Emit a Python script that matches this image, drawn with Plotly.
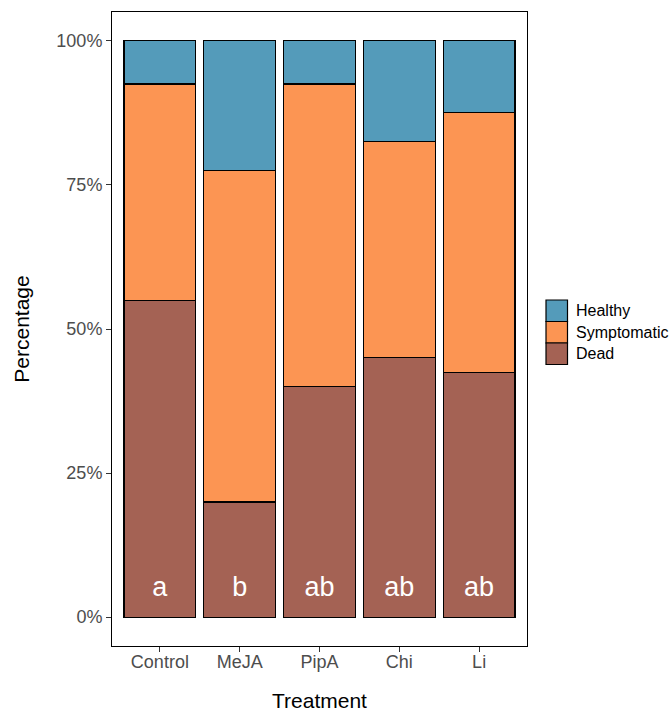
import plotly.graph_objects as go

treatments = ["Control", "MeJA", "PipA", "Chi", "Li"]
dead = [55.0, 20.0, 40.0, 45.0, 42.5]
symptomatic = [37.5, 57.5, 52.5, 37.5, 45.0]
healthy = [7.5, 22.5, 7.5, 17.5, 12.5]
letters = ["a", "b", "ab", "ab", "ab"]
y_ticks = [0, 25, 50, 75, 100]
y_tick_labels = ["0%", "25%", "50%", "75%", "100%"]

colors = {"Healthy": "#549BBA", "Symptomatic": "#FC9553", "Dead": "#A46254"}
FONT = "Liberation Sans, Arial"

W, H = 670, 712
ML, MR, MT, MB = 112, 143, 12, 66
PW, PH = W - ML - MR, H - MT - MB

fig = go.Figure()
for name, vals in [("Dead", dead), ("Symptomatic", symptomatic), ("Healthy", healthy)]:
    fig.add_trace(go.Bar(
        x=treatments, y=vals, name=name, width=0.9, showlegend=False,
        marker=dict(color=colors[name], line=dict(color="black", width=1.2)),
    ))

fig.add_trace(go.Scatter(
    x=treatments, y=[4.8] * len(treatments), text=letters, mode="text",
    textfont=dict(color="white", size=27, family=FONT),
    showlegend=False, hoverinfo="skip",
))

# Legend keys drawn as bordered squares to the right of the panel
def px_x(p):
    return (p - ML) / PW

def px_y(p):
    return 1 - (p - MT) / PH

key_left, key_size, key_top = 546, 21.5, 300
shapes, annotations = [], []
for i, name in enumerate(["Healthy", "Symptomatic", "Dead"]):
    top = key_top + i * key_size
    shapes.append(dict(
        type="rect", xref="paper", yref="paper",
        x0=px_x(key_left), x1=px_x(key_left + key_size),
        y0=px_y(top + key_size), y1=px_y(top),
        fillcolor=colors[name], line=dict(color="black", width=1.2), layer="above",
    ))
    annotations.append(dict(
        xref="paper", yref="paper", x=px_x(key_left + key_size + 6),
        y=px_y(top + key_size / 2), text=name, showarrow=False,
        xanchor="left", yanchor="middle", font=dict(size=16, color="black", family=FONT),
    ))

fig.update_layout(
    barmode="stack",
    width=W, height=H,
    margin=dict(l=ML, r=MR, t=MT, b=MB, autoexpand=False),
    plot_bgcolor="white", paper_bgcolor="white",
    font=dict(family=FONT, color="black"),
    showlegend=False,
    shapes=shapes, annotations=annotations,
)
fig.update_xaxes(
    range=[-0.6, 4.6], showline=True, mirror=True, linecolor="black", linewidth=1,
    ticks="outside", ticklen=5, tickcolor="#333333",
    tickfont=dict(size=18, color="#4D4D4D"), ticklabelstandoff=-6,
    title=dict(text="Treatment", font=dict(size=21, color="black"), standoff=22),
    showgrid=False, zeroline=False, automargin=False,
)
fig.update_yaxes(
    range=[-5, 105], showline=True, mirror=True, linecolor="black", linewidth=1,
    tickvals=y_ticks, ticktext=y_tick_labels,
    ticks="outside", ticklen=5, tickcolor="#333333",
    tickfont=dict(size=18, color="#4D4D4D"),
    title=dict(text="Percentage", font=dict(size=21, color="black"), standoff=21),
    showgrid=False, zeroline=False, automargin=False,
)

fig.write_html("out.html")
